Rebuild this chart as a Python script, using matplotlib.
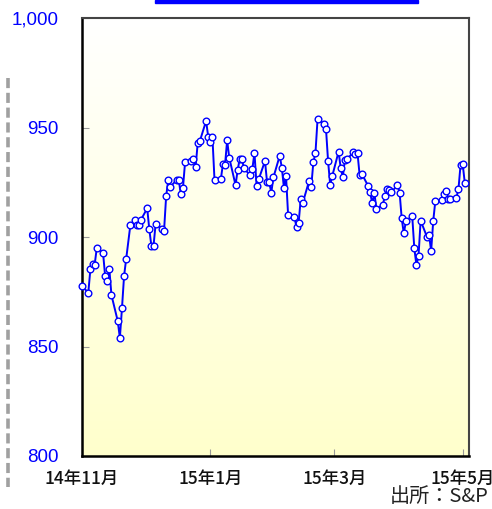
import matplotlib
matplotlib.use("Agg")
import matplotlib.pyplot as plt
import matplotlib.dates as mdates
from matplotlib.patches import Rectangle
from matplotlib.lines import Line2D
import numpy as np
import pandas as pd

# daily closes, day = days since 2014-11-01
day = [0, 3, 4, 5, 6, 7, 10, 11, 12, 13, 14, 17, 18, 19, 20, 21, 23, 25, 26, 27,
       28, 31, 32, 33, 34, 35, 38, 39, 40, 41, 42, 45, 46, 47, 48, 49, 52, 53, 54, 55,
       56, 59, 60, 61, 62, 63, 66, 67, 68, 69, 70, 73, 74, 75, 76, 77, 80, 81, 82, 83,
       84, 87, 88, 89, 90, 91, 94, 95, 96, 97, 98, 101, 102, 103, 104, 105, 108, 109, 110, 111,
       112, 115, 116, 117, 118, 119, 122, 123, 124, 125, 126, 129, 130, 131, 132, 133, 136, 137, 138, 139,
       140, 143, 144, 145, 146, 147, 150, 151, 152, 153, 154, 157, 158, 159, 160, 161, 164, 165, 166, 167,
       168, 171, 172, 173, 174, 175, 178, 179, 180, 181, 182]
close = [877.5, 874.6, 885.4, 887.8, 887.2, 894.8, 892.8, 882.2, 879.9, 885.3,
         873.5, 861.6, 853.9, 867.4, 882.2, 890.0, 905.5, 907.6, 905.5, 905.3,
         907.8, 913.1, 903.5, 895.9, 895.9, 905.9, 903.8, 902.7, 918.5, 926.0,
         923.0, 926.0, 926.0, 919.5, 922.4, 934.1, 934.6, 935.5, 931.8, 942.8,
         943.7, 953.0, 945.8, 943.5, 945.8, 926.0, 926.3, 933.3, 932.9, 944.1,
         936.3, 923.7, 930.5, 935.8, 935.6, 931.4, 928.1, 931.1, 938.5, 923.4,
         926.3, 934.7, 924.9, 924.9, 920.3, 927.2, 937.1, 931.7, 922.5, 928.0,
         909.9, 909.1, 904.4, 906.5, 917.4, 915.7, 925.7, 923.0, 934.2, 938.4,
         953.9, 951.5, 949.5, 934.6, 923.9, 927.9, 939.0, 931.4, 927.4, 935.3,
         935.5, 938.7, 937.9, 938.2, 928.2, 928.9, 923.4, 920.4, 915.3, 920.1,
         912.8, 914.7, 918.6, 922.1, 921.6, 920.4, 923.7, 920.3, 908.5, 901.6,
         907.2, 909.6, 894.8, 887.2, 891.3, 907.5, 900.1, 900.9, 893.6, 907.4,
         916.5, 916.8, 919.6, 921.2, 917.2, 917.5, 917.8, 922.0, 933.1, 933.3,
         924.7]

tick_dates = ["2014-11-01", "2015-01-01", "2015-03-01", "2015-05-01"]
tick_labels = ["14年11月", "15年1月", "15年3月", "15年5月"]
y_ticks = [800, 850, 900, 950, 1000]
y_labels = ["800", "850", "900", "950", "1,000"]

start = pd.Timestamp("2014-11-01")
dates = start + pd.to_timedelta(day, unit="D")

fig = plt.figure(figsize=(4.92, 5.09), dpi=100)
ax = fig.add_axes([82 / 492, 53 / 509, 387 / 492, 438 / 509])

x0 = mdates.date2num(start)
x1 = mdates.date2num(pd.Timestamp("2015-05-04"))
ax.set_xlim(x0, x1)
ax.set_ylim(800, 1000)

# white at the top fading to pale yellow at the bottom
grad = np.linspace(0, 1, 256).reshape(-1, 1)
top_c = np.array([1.0, 1.0, 1.0])
bot_c = np.array([1.0, 1.0, 0.80])
img = top_c + (bot_c - top_c) * grad[..., None]
ax.imshow(img, extent=[x0, x1, 800, 1000], aspect="auto", zorder=0,
          interpolation="bilinear")

ax.plot(mdates.date2num(dates), close, color="#0000ff", lw=1.4,
        marker="o", ms=4.8, mfc="white", mec="#0000ff", mew=1.0,
        zorder=3, clip_on=False)

ax.set_yticks(y_ticks)
ax.set_yticklabels(y_labels, color="#0000ff", fontsize=13.5,
                   family="Liberation Sans")
ax.set_xticks(mdates.date2num(pd.to_datetime(tick_dates)))
ax.set_xticklabels(tick_labels, fontsize=12.5, color="#111111",
                   family=["Noto Sans CJK JP", "DejaVu Sans"], weight="medium")
ax.tick_params(axis="both", direction="in", length=5, width=0.8,
               color="#999999")
ax.tick_params(axis="y", pad=17)
ax.tick_params(axis="x", pad=10)

ax.spines["left"].set_color("black")
ax.spines["bottom"].set_color("black")
ax.spines["left"].set_linewidth(1.8)
ax.spines["bottom"].set_linewidth(1.8)
ax.spines["top"].set_color("#444444")
ax.spines["right"].set_color("#444444")
ax.spines["top"].set_linewidth(1.5)
ax.spines["right"].set_linewidth(1.5)

# blue strip at the very top
fig.patches.append(Rectangle((155 / 492, 1 - 2.5 / 509), 263 / 492, 2.5 / 509,
                             transform=fig.transFigure, color="#0000ff",
                             zorder=5))

# dashed gray rule on the left
fig.add_artist(Line2D([8.3 / 492, 8.3 / 492], [1 - 78 / 509, 1 - 487 / 509],
                      transform=fig.transFigure, color="#a0a0a0", lw=2.6,
                      dashes=(2.8, 1.3)))

fig.text(489 / 492, 1 - 496 / 509, "出所：S&P", ha="right", va="center",
         fontsize=14.5, color="#222222",
         family=["Noto Sans CJK JP", "DejaVu Sans"])

fig.savefig("out.png", dpi=100)
